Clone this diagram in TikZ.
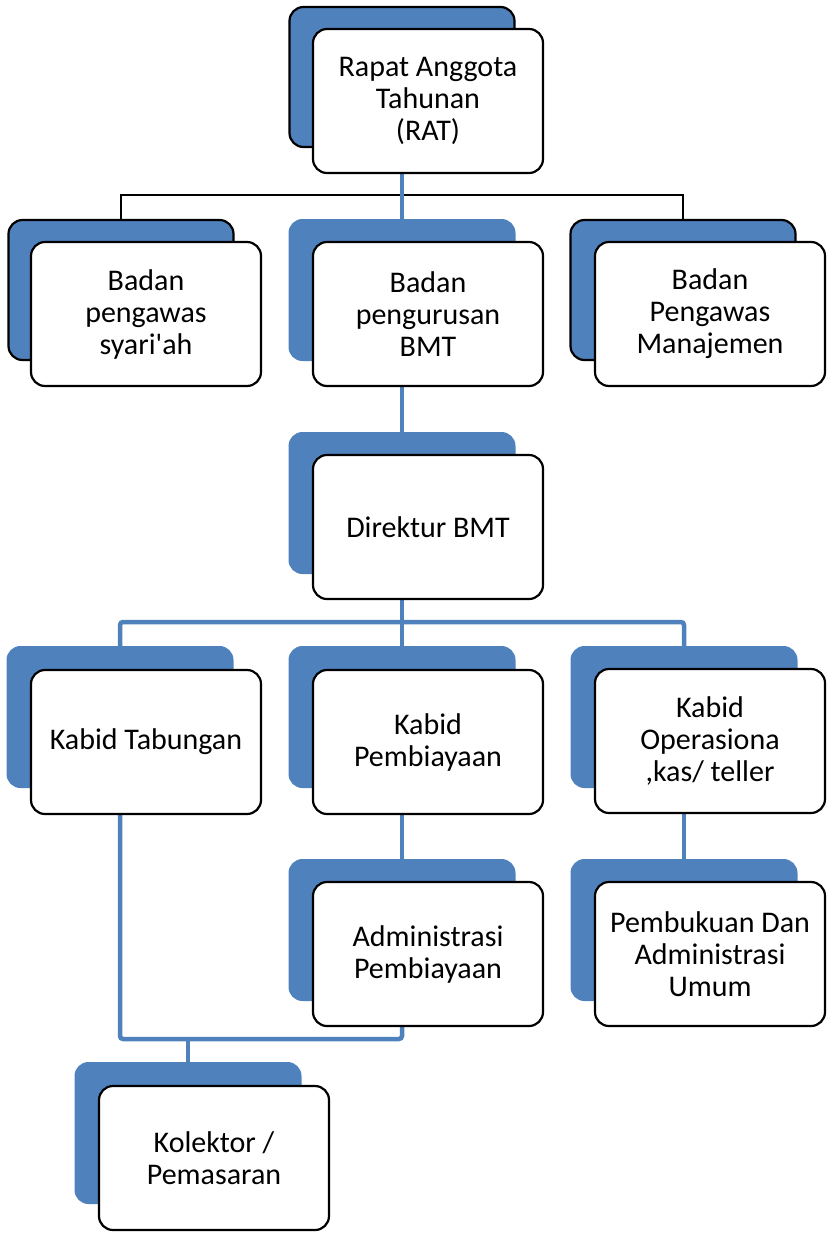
\documentclass[tikz,border=0pt]{standalone}
\usepackage{fontspec}
\setmainfont{Carlito}
\usetikzlibrary{backgrounds}
\definecolor{oblue}{HTML}{4F81BD}

\begin{document}
\begin{tikzpicture}[x=1pt,y=-1pt]
    \tikzset{front/.style={
      rectangle,
      rounded corners=14pt,
      draw=black,
      line width=2.2pt,
      fill=white,
      minimum width=230pt,
      minimum height=144pt,
      inner sep=0pt,
      align=center,
      font=\fontsize{30}{32}\selectfont},
      back/.style={
      rectangle,
      rounded corners=14pt,
      fill=oblue,
      minimum width=227pt,
      minimum height=142pt,
      inner sep=0pt},
      edged/.style={draw=black, line width=2.2pt, minimum width=225pt, minimum height=140pt},
      conn/.style={draw=oblue, line width=4.5pt, rounded corners=3pt},
      blk/.style={draw=black, line width=1.8pt}}
    \useasboundingbox (0,0) rectangle (837,1253);

    \node[back,edged] at (402, 77) (ratb) {};
    \node[front] at (428, 101) (rat) {Rapat Anggota\\Tahunan\\(RAT)};

    \node[back,edged] at (121, 290) (syarb) {};
    \node[front] at (146, 314) (syar) {Badan\\pengawas\\syari\textquotesingle ah};
    \node[back] at (402, 290) (pengurusb) {};
    \node[front] at (428, 314) (pengurus) {Badan\\pengurusan\\BMT};
    \node[back,edged] at (683, 290) (manajb) {};
    \node[front] at (710, 314) (manaj) {Badan\\Pengawas\\Manajemen};

    \node[back] at (402, 503) (dirb) {};
    \node[front] at (428, 527) (dir) {Direktur BMT};

    \node[back] at (120, 717) (tabb) {};
    \node[front] at (146, 742) (tab) {Kabid Tabungan};
    \node[back] at (402, 717) (pembb) {};
    \node[front] at (428, 742) (pemb) {Kabid\\Pembiayaan};
    \node[back] at (684, 717) (operb) {};
    \node[front] at (710, 741) (oper) {Kabid\\Operasiona\\,kas/ teller};

    \node[back] at (402, 930) (adminb) {};
    \node[front] at (428, 954) (admin) {Administrasi\\Pembiayaan};
    \node[back] at (684, 930) (bukuanb) {};
    \node[front] at (710, 954) (bukuan) {Pembukuan Dan\\Administrasi\\Umum};

    \node[back] at (188, 1133) (kolb) {};
    \node[front] at (214, 1158) (kol) {Kolektor /\\Pemasaran};

    \coordinate (hub1) at (402, 195);
    \coordinate (hub2) at (402, 622);
    \coordinate (hub3) at (188, 1039);

    \begin{scope}[on background layer]
    \draw[blk] (syarb.center) |- (hub1) -| (manajb.center);
    \draw[conn] (ratb.center) -- (pengurusb.center);
    \draw[conn] (pengurusb.center) -- (dirb.center);
    \draw[conn] (dirb.center) -- (pembb.center);
    \draw[conn] (tabb.center) |- (hub2) -| (operb.center);
    \draw[conn] (pembb.center) -- (adminb.center);
    \draw[conn] (operb.center) -- (bukuanb.center);
    \draw[conn] (tabb.center) |- (hub3);
    \draw[conn] (adminb.center) |- (hub3);
    \draw[conn] (hub3) -- (kolb.center);
    \end{scope}
\end{tikzpicture}
\end{document}
